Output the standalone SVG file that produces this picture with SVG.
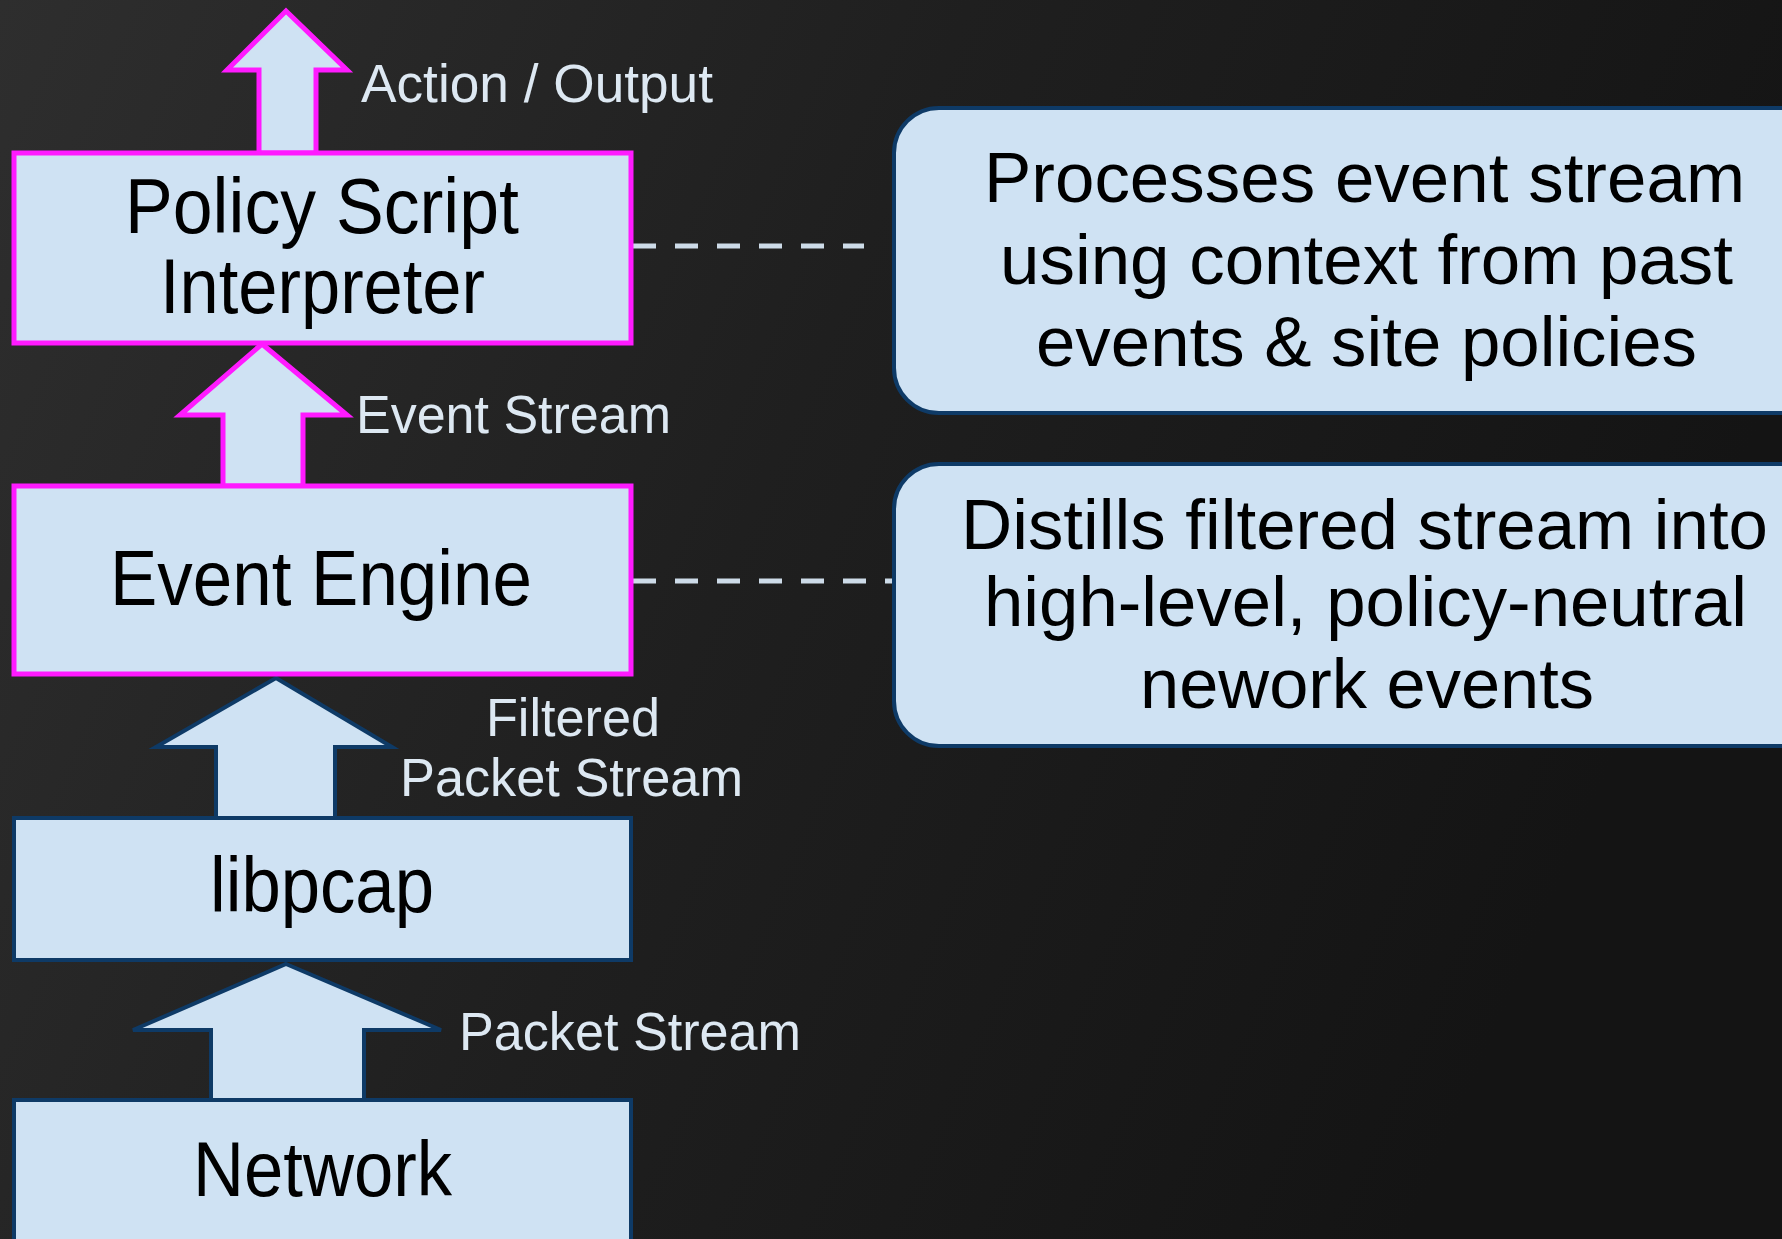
<svg xmlns="http://www.w3.org/2000/svg" width="1782" height="1239" viewBox="0 0 1782 1239">
<defs>
<linearGradient id="bg" x1="0" y1="0" x2="1" y2="0.3">
<stop offset="0" stop-color="#2e2e2e"/>
<stop offset="0.5" stop-color="#1f1f1f"/>
<stop offset="1" stop-color="#141414"/>
</linearGradient>
<style>
.box{fill:#cfe2f3;}
.mag{stroke:#ff1aff;stroke-width:5;}
.blu{stroke:#0e3a66;stroke-width:4;}
.rbox{fill:#cfe2f3;stroke:#0e3a66;stroke-width:4;}
.t{font-family:"Liberation Sans",Arial,sans-serif;fill:#000;}
.big{font-size:78px;}
.desc{font-size:71px;}
.lbl{font-family:"Liberation Sans",Arial,sans-serif;font-size:54px;fill:#dde8f2;}
.dash{stroke:#cddbe8;stroke-width:5;stroke-dasharray:23 19;fill:none;}
</style>
</defs>
<rect width="1782" height="1239" fill="url(#bg)"/>

<g id="connectors">
<line class="dash" x1="633" y1="246" x2="864" y2="246"/>
<line class="dash" x1="633" y1="581" x2="894" y2="581"/>
<polygon id="arrow-action" class="box mag" points="286,11 347,70 316,70 316,153 259,153 259,70 227,70"/>
<polygon id="arrow-event" class="box mag" points="262,344 347,415 303,415 303,486 223,486 223,415 180,415"/>
<polygon id="arrow-filtered" class="box blu" points="276,678 392,747 335,747 335,818 216,818 216,747 156,747"/>
<polygon id="arrow-packet" class="box blu" points="286,964 441,1030 364,1030 364,1100 211,1100 211,1030 133,1030"/>
<text class="lbl" x="361" y="102" textLength="352" lengthAdjust="spacingAndGlyphs">Action / Output</text>
<text class="lbl" x="356" y="433" textLength="315" lengthAdjust="spacingAndGlyphs">Event Stream</text>
<text class="lbl" x="486" y="736" textLength="174" lengthAdjust="spacingAndGlyphs">Filtered</text>
<text class="lbl" x="400" y="796" textLength="343" lengthAdjust="spacingAndGlyphs">Packet Stream</text>
<text class="lbl" x="459" y="1050" textLength="342" lengthAdjust="spacingAndGlyphs">Packet Stream</text>
</g>

<g id="policy">
<rect class="box mag" x="14" y="153" width="617" height="190"/>
<text class="t big" x="125" y="233" textLength="394" lengthAdjust="spacingAndGlyphs">Policy Script</text>
<text class="t big" x="160" y="313" textLength="325" lengthAdjust="spacingAndGlyphs">Interpreter</text>
</g>

<g id="event-engine">
<rect class="box mag" x="14" y="486" width="617" height="188"/>
<text class="t big" x="110" y="605" textLength="422" lengthAdjust="spacingAndGlyphs">Event Engine</text>
</g>

<g id="libpcap">
<rect class="box blu" x="14" y="818" width="617" height="142"/>
<text class="t big" x="210" y="912" textLength="224" lengthAdjust="spacingAndGlyphs">libpcap</text>
</g>

<g id="network">
<rect class="box blu" x="14" y="1100" width="617" height="170"/>
<text class="t big" x="193" y="1196" textLength="259" lengthAdjust="spacingAndGlyphs">Network</text>
</g>

<g id="desc-policy">
<rect class="rbox" x="894" y="108" width="960" height="305" rx="45" ry="45"/>
<text class="t desc" x="984" y="202" textLength="761" lengthAdjust="spacingAndGlyphs">Processes event stream</text>
<text class="t desc" x="1000" y="284" textLength="733" lengthAdjust="spacingAndGlyphs">using context from past</text>
<text class="t desc" x="1036" y="366" textLength="661" lengthAdjust="spacingAndGlyphs">events &amp; site policies</text>
</g>

<g id="desc-engine">
<rect class="rbox" x="894" y="464" width="960" height="282" rx="45" ry="45"/>
<text class="t desc" x="961" y="549" textLength="807" lengthAdjust="spacingAndGlyphs">Distills filtered stream into</text>
<text class="t desc" x="984" y="626" textLength="763" lengthAdjust="spacingAndGlyphs">high-level, policy-neutral</text>
<text class="t desc" x="1140" y="708" textLength="454" lengthAdjust="spacingAndGlyphs">nework events</text>
</g>
</svg>
